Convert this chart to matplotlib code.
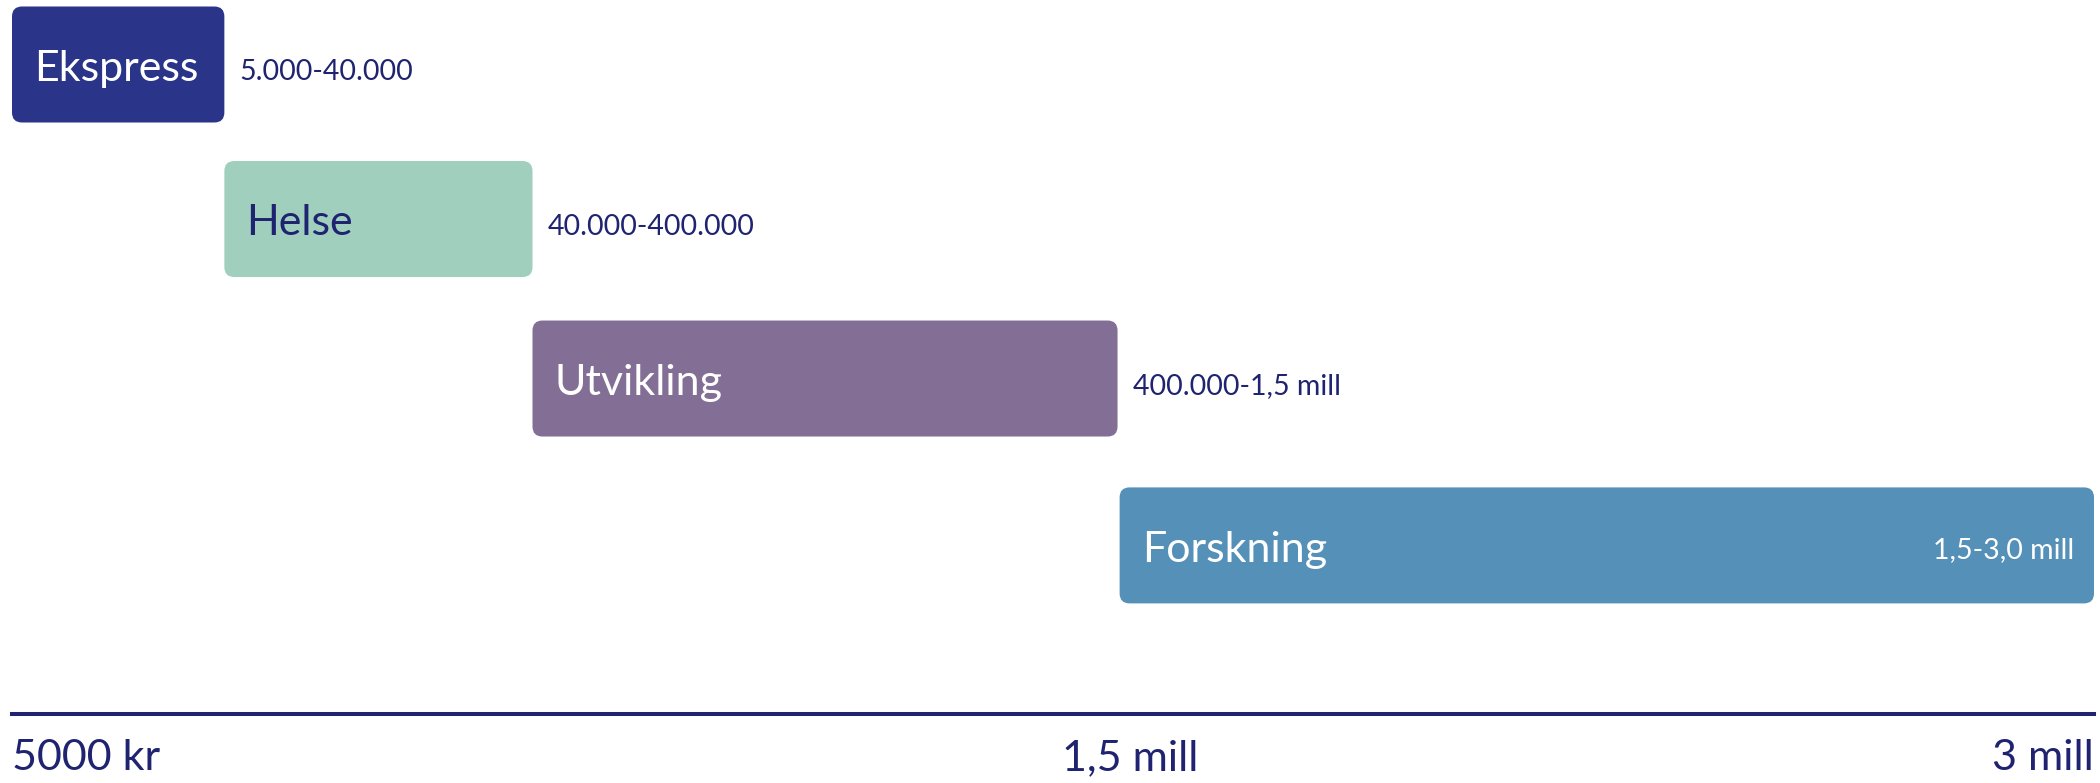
import matplotlib
matplotlib.use("Agg")
import matplotlib.pyplot as plt
from matplotlib.patches import FancyBboxPatch

# categories and their ranges
names = ["Ekspress", "Helse", "Utvikling", "Forskning"]
ranges = ["5.000-40.000", "40.000-400.000", "400.000-1,5 mill", "1,5-3,0 mill"]
# schematic scale (0 = 5000 kr, 100 = 3 mill), not linear in kroner
starts = [0, 10.2, 25.0, 53.2]
ends = [10.2, 25.0, 53.1, 100]
tick_pos = [0, 53.7, 100]
tick_labels = ["5000 kr", "1,5 mill", "3 mill"]

colors = ["#2A358A", "#A0CFBE", "#836F96", "#5490B8"]
name_colors = ["white", "#1F2370", "white", "white"]
navy = "#1F2370"

plt.rcParams["font.family"] = ["Lato", "DejaVu Sans"]

W, H = 2100, 783
fig = plt.figure(figsize=(W / 100, H / 100), dpi=100)
line_px = 714
ax = fig.add_axes([12 / W, (H - line_px) / H, (2094 - 12) / W, line_px / H])

# row layout (rows are not quite evenly spaced in the original)
row_y = [0, 0.964, 1.959, 3.0]
row_px = 160.3
first_px = 64.5
ax.set_xlim(0, 100)
ax.set_ylim((line_px - first_px) / row_px, -first_px / row_px)

x_per_px = 100 / 2082
y_per_px = 1 / row_px
bar_h = 116 * y_per_px
r = 10 * x_per_px
asp = y_per_px / x_per_px

for i in range(len(names)):
    x0, x1 = starts[i], ends[i]
    y = row_y[i]
    box = FancyBboxPatch((x0, y - bar_h / 2), x1 - x0, bar_h,
                         boxstyle=f"round,pad=0,rounding_size={r}",
                         mutation_aspect=asp, facecolor=colors[i],
                         edgecolor="none")
    ax.add_patch(box)
    ax.annotate(names[i], (x0, y), xytext=(16, -3), textcoords="offset points",
                ha="left", va="center", fontsize=31, color=name_colors[i])
    if i < len(names) - 1:
        ax.annotate(ranges[i], (x1, y), xytext=(11, -5.5), textcoords="offset points",
                    ha="left", va="center", fontsize=20.5, color=navy)
    else:
        ax.annotate(ranges[i], (x1, y), xytext=(-14, -3), textcoords="offset points",
                    ha="right", va="center", fontsize=20.5, color="white")

for s in ["top", "left", "right"]:
    ax.spines[s].set_visible(False)
ax.spines["bottom"].set_color(navy)
ax.spines["bottom"].set_linewidth(2.9)
ax.set_yticks([])
ax.set_xticks(tick_pos)
ax.set_xticklabels(tick_labels, fontsize=31, color=navy)
ax.tick_params(axis="x", length=0, pad=18)
labs = ax.get_xticklabels()
labs[0].set_ha("left")
labs[-1].set_ha("right")

fig.savefig("out.png", dpi=100)
